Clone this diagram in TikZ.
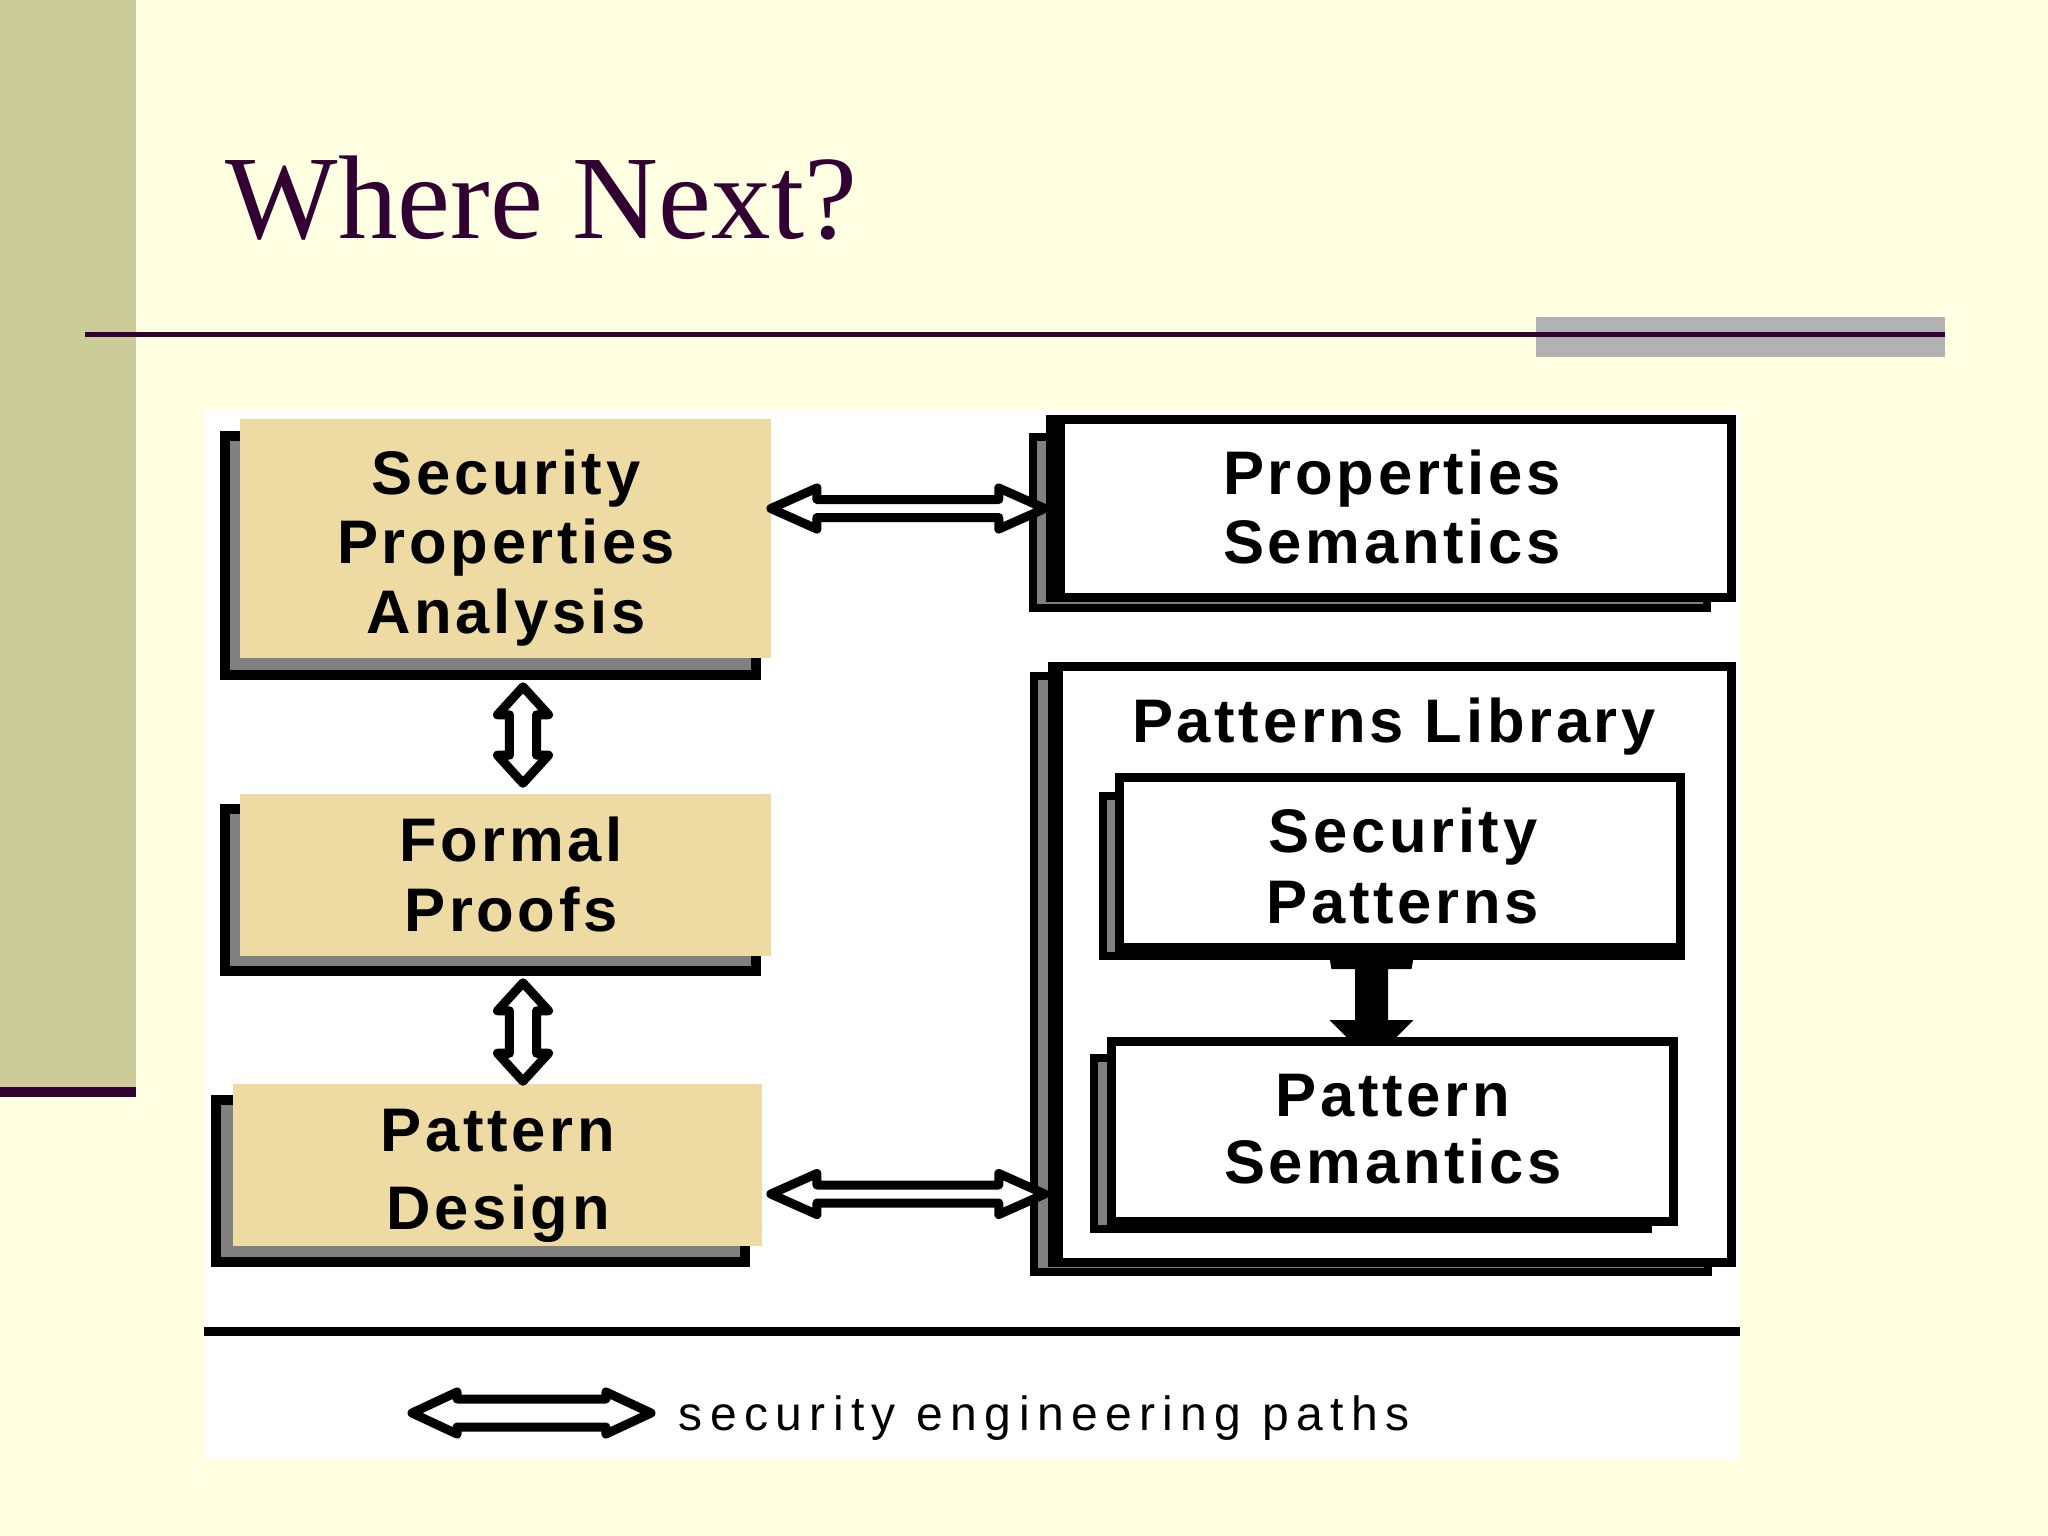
\documentclass[tikz,border=0pt]{standalone}
\usepackage{fontspec}
\usetikzlibrary{calc}
\newfontfamily\ttlfont{Liberation Serif}
\newfontfamily\bxfont[LetterSpace=6]{Liberation Sans}
\newfontfamily\lgfont[LetterSpace=15.4]{Liberation Sans}
\definecolor{pagebg}{RGB}{255,255,225}
\definecolor{bandcol}{RGB}{204,204,153}
\definecolor{titlecol}{RGB}{51,0,51}
\definecolor{ruleblock}{RGB}{178,178,178}
\definecolor{tanfill}{RGB}{238,218,163}
\definecolor{shgray}{RGB}{128,128,128}
\newcommand{\sst}{\rule[-0.25em]{0pt}{1em}}
\newcommand{\bxf}[1]{\bxfont\bfseries\fontsize{17.5pt}{#1}\selectfont}
\newcommand{\boxlabel}[5]{%
  \node[lbl, font={\bxf{#4}}] (#1) at (#2,#3) {#5};}
% hollow / filled double arrow between two points: #1 style, #2 start, #3 end, #4 head length, #5 head half width, #6 shaft half width (px)
\newcommand{\dblarrow}[6]{%
  \draw[#1] let \p1=#2, \p2=#3, \n1={veclen(\x2-\x1,\y2-\y1)},
    \n2={(\x2-\x1)/\n1}, \n3={(\y2-\y1)/\n1},
    \n4={#4*0.28453}, \n5={#5*0.28453}, \n6={#6*0.28453} in
    (\x1,\y1)
    -- ({\x1+\n4*\n2-\n5*\n3},{\y1+\n4*\n3+\n5*\n2})
    -- ({\x1+\n4*\n2-\n6*\n3},{\y1+\n4*\n3+\n6*\n2})
    -- ({\x2-\n4*\n2-\n6*\n3},{\y2-\n4*\n3+\n6*\n2})
    -- ({\x2-\n4*\n2-\n5*\n3},{\y2-\n4*\n3+\n5*\n2})
    -- (\x2,\y2)
    -- ({\x2-\n4*\n2+\n5*\n3},{\y2-\n4*\n3-\n5*\n2})
    -- ({\x2-\n4*\n2+\n6*\n3},{\y2-\n4*\n3-\n6*\n2})
    -- ({\x1+\n4*\n2+\n6*\n3},{\y1+\n4*\n3-\n6*\n2})
    -- ({\x1+\n4*\n2+\n5*\n3},{\y1+\n4*\n3-\n5*\n2})
    -- cycle;}
\tikzset{
  lbl/.style={align=center, inner sep=0pt, text=black},
  tanbox/.style={fill=tanfill, draw=none, inner sep=0pt},
  wbox/.style={fill=white, draw=black, line width=2.56pt, inner sep=0pt},
  shboxL/.style={fill=shgray, draw=black, line width=2.85pt},
  shboxR/.style={fill=shgray, draw=black, line width=2.28pt},
  hollow/.style={draw=black, fill=white, line width=2.56pt, line join=round},
  solidconn/.style={fill=black, draw=none},
}
\begin{document}
\begin{tikzpicture}[x=0.01cm, y=-0.01cm]
\useasboundingbox (0,0) rectangle (2048,1536);
% page
\fill[pagebg] (0,0) rectangle (2048,1536);
\fill[bandcol] (0,0) rectangle (136,1087);
\fill[titlecol] (0,1087) rectangle (136,1097);
\node[anchor=base west, inner sep=0pt, text=titlecol, font={\ttlfont\fontsize{33.86pt}{40pt}\selectfont}] (title) at (225,238) {Where Next?};
\fill[ruleblock] (1536,317) rectangle (1945,357);
\draw[titlecol, line width=1.42pt] (85,334) -- (1945,334);
% diagram area
\fill[white] (204,409) rectangle (1740,1460);
\draw[black, line width=2.56pt] (204,1331) -- (1740,1331);

% left column
\draw[shboxL] (225,436) rectangle (756,675);
\node[tanbox, minimum width=5.31cm, minimum height=2.39cm] (spa) at (505.5,538.5) {};
\draw[shboxL] (225,809) rectangle (756,971);
\node[tanbox, minimum width=5.31cm, minimum height=1.62cm] (fp) at (505.5,875) {};
\draw[shboxL] (216,1100) rectangle (745,1262);
\node[tanbox, minimum width=5.29cm, minimum height=1.62cm] (pd) at (497.5,1165) {};

\boxlabel{tspa}{506}{548.6}{19.63pt}{\sst Security\\\sst Properties\\\sst Analysis}
\boxlabel{tfp}{511}{881.1}{19.63pt}{\sst Formal\\\sst Proofs}
\boxlabel{tpd}{498}{1175.1}{21.91pt}{\sst Pattern\\\sst Design}

% right column
\draw[shboxR] (1033,437) rectangle (1707,608);
\node[wbox, minimum width=6.81cm, minimum height=1.78cm] (ps) at (1391,508.5) {};
\fill[black] (ps.north west) rectangle ($(ps.south west)+(19,0)$);
\boxlabel{tps}{1392}{513.6}{19.35pt}{\sst Properties\\\sst Semantics}

\draw[shboxR] (1034,676) rectangle (1708,1272);
\node[wbox, minimum width=6.79cm, minimum height=5.96cm] (pl) at (1392,964.5) {};
\fill[black] (pl.north west) rectangle ($(pl.south west)+(15,0)$);
\boxlabel{tpl}{1394}{727.6}{20pt}{\sst Patterns Library}

\draw[shboxR] (1103,796) rectangle (1681,956);
\node[wbox, minimum width=5.61cm, minimum height=1.70cm] (sp) at (1400,862.5) {};
\boxlabel{tsp}{1403}{872.6}{19.92pt}{\sst Security\\\sst Patterns}

\draw[shboxR] (1094,1058) rectangle (1648,1229);
\node[wbox, minimum width=5.62cm, minimum height=1.80cm] (psem) at (1392.5,1131.5) {};
\boxlabel{tpsem}{1393}{1134.6}{18.78pt}{\sst Pattern\\\sst Semantics}

% solid connector Security Patterns -> Pattern Semantics
\fill[solidconn] ($(sp.south)+(-70.5,6)$) -- ++(84,0) -- ++(-2,11) -- ++(-23.5,0)
  -- ++(0,51) -- ++(25.5,0) -- ++(-17,17) -- ++(-50,0) -- ++(-17,-17)
  -- ++(25.5,0) -- ++(0,-51) -- ++(-23.5,0) -- cycle;

% vertical hollow arrows
\dblarrow{hollow}{($(spa.south)+(17.5,28)$)}{($(fp.north)+(17.5,-10)$)}{28}{25.5}{13.5}
\dblarrow{hollow}{($(fp.south)+(17.5,26)$)}{($(pd.north)+(25.5,-2)$)}{28}{25.5}{13.5}
% horizontal hollow arrows
\dblarrow{hollow}{($(spa.east |- ps.west)+(-1,0)$)}{($(ps.west)+(-1,0)$)}{46}{20.5}{9}
\coordinate (h2a) at ($(pd.east)+(8,29)$);
\dblarrow{hollow}{(h2a)}{($(h2a -| pl.west)+(-3,0)$)}{46}{20.5}{9}

% legend
\coordinate (lgA) at (412,1413);
\coordinate (lgB) at (651,1413);
\dblarrow{hollow}{(lgA)}{(lgB)}{45}{21}{14}
\node[anchor=west, inner sep=0pt, font={\lgfont\fontsize{13.66pt}{16pt}\selectfont}] (legtxt) at (678,1418) {\sst security engineering paths};
\end{tikzpicture}
\end{document}
